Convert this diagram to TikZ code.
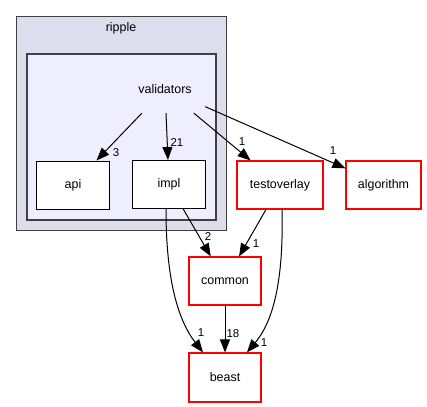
\documentclass[tikz,border=0pt]{standalone}
\usepackage{fontspec}
\setmainfont{Liberation Sans}
\usetikzlibrary{arrows.meta}
\definecolor{outerfill}{HTML}{DDDDEE}
\definecolor{innerfill}{HTML}{EEEEFF}
\definecolor{frame}{HTML}{404040}
\definecolor{redline}{HTML}{FF0000}
\tikzset{
  dirbox/.style={draw=black, fill=white, line width=1bp, minimum width=72bp, minimum height=48bp, inner sep=0pt, font=\fontsize{12.5}{14}\selectfont},
  redbox/.style={draw=redline, fill=white, line width=1.1bp, minimum width=72bp, minimum height=48bp, inner sep=0pt, font=\fontsize{12.5}{14}\selectfont},
  dep/.style={draw=black, line width=1bp, -{Triangle[length=13bp,width=10bp]}},
  lbl/.style={font=\fontsize{11.5}{12}\selectfont, inner sep=0pt}
}
\begin{document}
\begin{tikzpicture}[x=1bp,y=-1bp]
\useasboundingbox (0,0) rectangle (427,407);
% clusters
\draw[draw=frame, fill=outerfill, line width=1bp] (16,16) rectangle (226,230);
\node[font=\fontsize{12.5}{14}\selectfont] (ripple) at (121,28) {ripple};
\draw[draw=frame, fill=innerfill, line width=1.4bp] (27,54) rectangle (216,220);
\node[minimum width=80bp, minimum height=48bp, inner sep=0pt, font=\fontsize{12.5}{14}\selectfont] (validators) at (165,89) {validators};
% nodes
\node[dirbox] (api) at (73,185) {api};
\node[dirbox] (impl) at (169,184.5) {impl};
\node[redbox, minimum width=86bp] (testoverlay) at (280,185) {testoverlay};
\node[redbox, minimum width=75bp] (algorithm) at (383.5,185) {algorithm};
\node[redbox] (common) at (225,281) {common};
\node[redbox, minimum height=49bp] (beast) at (225,377.5) {beast};
% edges
\draw[dep] (validators) -- (api);
\draw[dep] (validators) -- (impl);
\draw[dep] (validators) -- (testoverlay);
\draw[dep] (validators) -- (algorithm);
\draw[dep] (impl) -- (common);
\draw[dep] (testoverlay) -- (common);
\draw[dep] (common) -- (beast);
\draw[dep] (impl.south -| 166,0) .. controls (166,280) and (178,320) .. (beast.north -| 203,0);
\draw[dep] (testoverlay.south -| 282,0) .. controls (284,290) and (270,325) .. (beast.north -| 247,0);
% labels
\node[lbl] (l1) at (116,153) {3};
\node[lbl] (l2) at (177,142) {21};
\node[lbl] (l3) at (242,142) {1};
\node[lbl] (l4) at (333,151) {1};
\node[lbl] (l5) at (208,236) {2};
\node[lbl] (l6) at (256,244) {1};
\node[lbl] (l7) at (201,333) {1};
\node[lbl] (l8) at (233,334) {18};
\node[lbl] (l9) at (264,343) {1};
\end{tikzpicture}
\end{document}
